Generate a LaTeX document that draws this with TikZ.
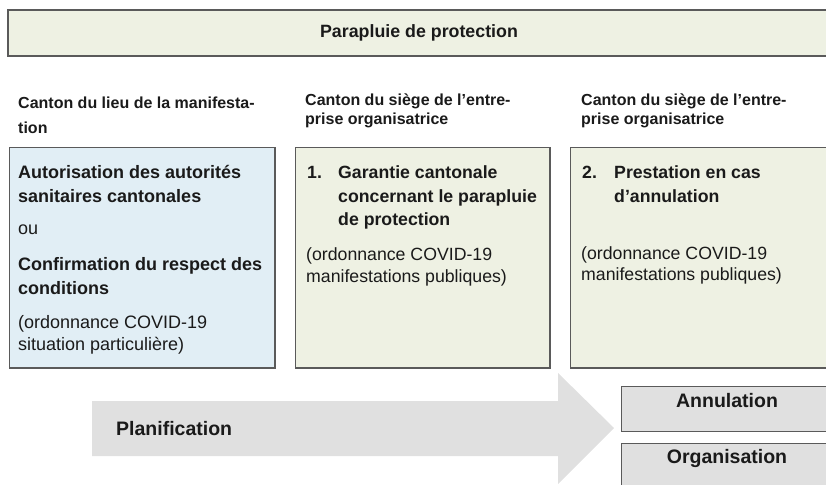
\documentclass[tikz,border=0pt]{standalone}
\usepackage{fontspec}
\setmainfont{Liberation Sans}
\definecolor{paleGreen}{HTML}{EEF1E3}
\definecolor{paleBlue}{HTML}{E1EEF5}
\definecolor{lineGray}{HTML}{5A5A5A}
\definecolor{arrowGray}{HTML}{E0E0E0}
\definecolor{boxGray}{HTML}{E0E0E0}
\definecolor{txt}{HTML}{1A1A1A}
\begin{document}
\begin{tikzpicture}[x=1pt,y=-1pt,
  frame/.style={draw=lineGray, line width=1.1pt, inner sep=0pt, outer sep=0pt},
  hdr/.style={anchor=base west, inner sep=0pt, text=txt, font=\fontsize{16}{19}\selectfont\bfseries},
  btitle/.style={anchor=base west, inner sep=0pt, text=txt, font=\fontsize{17.7}{21}\selectfont\bfseries},
  bnote/.style={anchor=base west, inner sep=0pt, text=txt, font=\fontsize{17.7}{21}\selectfont},
  big/.style={inner sep=0pt, text=txt, font=\fontsize{19.5}{23}\selectfont\bfseries}
]
\useasboundingbox (0,0) rectangle (826,484);
\begin{scope}
\clip (0,0) rectangle (826,484);
% top banner
\draw[frame, fill=paleGreen] (8,10) rectangle (840,56);
\node[big, font=\fontsize{17.8}{21}\selectfont\bfseries] (umbrella) at (419,33) {Parapluie de protection};

% headers
\node[hdr] (h1a) at (18,108) {Canton du lieu de la manifesta-};
\node[hdr] (h1b) at (18,133) {tion};
\node[hdr] (h2a) at (305,106) {Canton du siège de l’entre-};
\node[hdr] (h2b) at (305,124.5) {prise organisatrice};
\node[hdr] (h3a) at (581,106) {Canton du siège de l’entre-};
\node[hdr] (h3b) at (581,124.5) {prise organisatrice};

% boxes
\draw[frame, fill=paleBlue] (9.5,147.5) rectangle (275,368);
\draw[frame, fill=paleGreen] (295.5,147.5) rectangle (550,368);
\draw[frame, fill=paleGreen] (570.5,147.5) rectangle (840,368);

% box 1 text
\node[btitle, font=\fontsize{18}{21}\selectfont\bfseries] (b1l1) at (18,178) {Autorisation des autorités};
\node[btitle, font=\fontsize{18}{21}\selectfont\bfseries] (b1l2) at (18,202) {sanitaires cantonales};
\node[bnote, font=\fontsize{18}{21}\selectfont] (b1l3) at (18,234) {ou};
\node[btitle, font=\fontsize{18}{21}\selectfont\bfseries] (b1l4) at (18,270) {Confirmation du respect des};
\node[btitle, font=\fontsize{18}{21}\selectfont\bfseries] (b1l5) at (18,294) {conditions};
\node[bnote, font=\fontsize{18}{21}\selectfont] (b1l6) at (18,328) {(ordonnance COVID-19};
\node[bnote, font=\fontsize{18}{21}\selectfont] (b1l7) at (18,350) {situation particulière)};

% box 2 text
\node[btitle] (b2n) at (307,178) {1.};
\node[btitle] (b2l1) at (338,178) {Garantie cantonale};
\node[btitle] (b2l2) at (338,202) {concernant le parapluie};
\node[btitle] (b2l3) at (338,225) {de protection};
\node[bnote] (b2l4) at (306,260) {(ordonnance COVID-19};
\node[bnote] (b2l5) at (306,282) {manifestations publiques)};

% box 3 text
\node[btitle] (b3n) at (582,178) {2.};
\node[btitle] (b3l1) at (614,178) {Prestation en cas};
\node[btitle] (b3l2) at (614,202) {d’annulation};
\node[bnote] (b3l4) at (581,259) {(ordonnance COVID-19};
\node[bnote] (b3l5) at (581,280) {manifestations publiques)};

% arrow
\fill[arrowGray] (92,401) -- (558,401) -- (558,373) -- (614,428) -- (558,484) -- (558,456) -- (92,456) -- cycle;
\node[big, anchor=west] (plan) at (116,429) {Planification};

% outcome boxes
\draw[frame, line width=0.9pt, fill=boxGray] (621,386) rectangle (840,431);
\node[big] (annul) at (727,401) {Annulation};
\draw[frame, line width=0.9pt, fill=boxGray] (621,443) rectangle (840,495);
\node[big] (orga) at (727,458) {Organisation};
\end{scope}
\end{tikzpicture}
\end{document}
